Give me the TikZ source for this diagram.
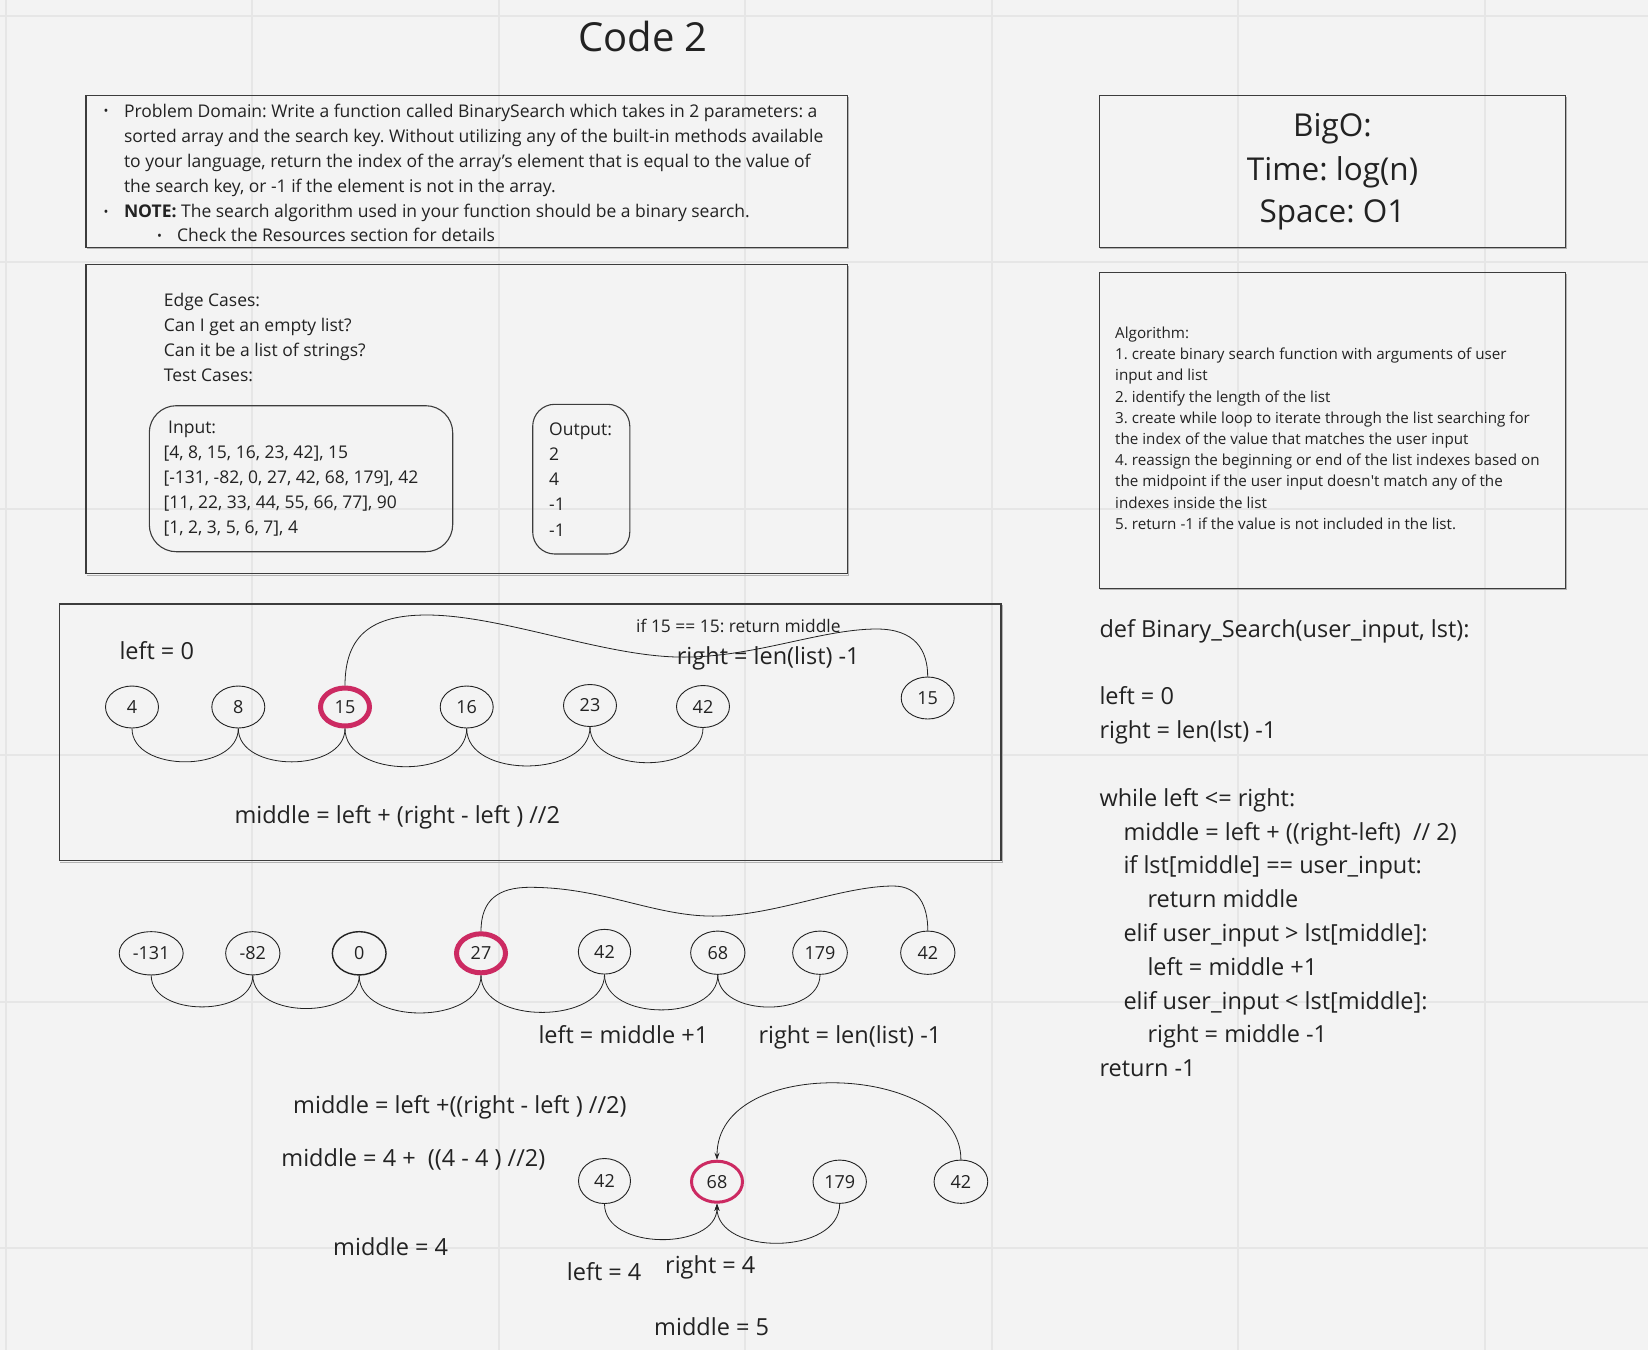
\documentclass[tikz,border=0pt]{standalone}
\usepackage{fontspec}
\setmainfont{Open Sans}
\usetikzlibrary{arrows.meta,shapes.geometric}
\definecolor{bgc}{HTML}{F3F3F3}
\definecolor{gridc}{HTML}{E6E6E6}
\definecolor{ink}{HTML}{222222}
\definecolor{boxc}{HTML}{3C3C3C}
\definecolor{hot}{HTML}{CC2A62}
\frenchspacing
\tikzset{
  panel/.style={draw=boxc,line width=1.3pt},
  roundbox/.style={draw=boxc,line width=1.1pt},
  tline/.style={anchor=base west,inner sep=0pt,text=ink,font=\fontsize{17.5}{21}\selectfont},
  aline/.style={anchor=base west,inner sep=0pt,text=ink,font=\fontsize{15.2}{18}\selectfont},
  cline/.style={anchor=base west,inner sep=0pt,text=ink,font=\fontsize{23.5}{28}\selectfont},
  bigline/.style={anchor=base,inner sep=0pt,text=ink,font=\fontsize{31.5}{36}\selectfont},
  ovalnode/.style={ellipse,draw=ink,line width=0.9pt,inner sep=0pt,minimum width=53pt,minimum height=42pt,text=ink,font=\fontsize{18}{20}\selectfont},
  hotoval/.style={ovalnode,draw=hot,line width=5pt,minimum width=49pt,minimum height=38pt},
  curve/.style={draw=ink,line width=0.8pt},
  arrowcurve/.style={curve,-{Stealth[length=7pt,width=5pt]}},
}
\begin{document}
\begin{tikzpicture}[x=1pt,y=-1pt]
\useasboundingbox (0,0) rectangle (1648,1350);
\fill[bgc] (0,0) rectangle (1648,1350);
\foreach \i in {0,...,6} \draw[gridc,line width=2pt] ({5.8+246.5*\i},0) -- ({5.8+246.5*\i},1350);
\foreach \j in {0,...,5} \draw[gridc,line width=2pt] (0,{15.8+246.5*\j}) -- (1648,{15.8+246.5*\j});

% title
\node[anchor=base,inner sep=0pt,text=ink,font=\fontsize{40}{44}\selectfont] (title) at (643,51) {Code 2};

% problem box
\draw[black!30,line width=1pt] (87,248.6) -- (848.6,248.6) -- (848.6,97);
\draw[panel] (86,95.7) rectangle (847.6,247.3);
\node[tline,font=\fontsize{13}{14}\selectfont] (pb1) at (103.5,115.8) {•};
\node[tline,font=\fontsize{13}{14}\selectfont] (pb2) at (103.5,216.2) {•};
\node[tline,font=\fontsize{13}{14}\selectfont] (pb3) at (157,240.2) {•};
\node[tline] (p1) at (123.8,117.3) {Problem Domain: Write a function called BinarySearch which takes in 2 parameters: a};
\node[tline] (p2) at (123.8,142.6) {sorted array and the search key. Without utilizing any of the built-in methods available};
\node[tline] (p3) at (123.8,167.8) {to your language, return the index of the array’s element that is equal to the value of};
\node[tline] (p4) at (123.8,192.9) {the search key, or -1 if the element is not in the array.};
\node[tline] (p5) at (123.8,217.7) {\textbf{NOTE:} The search algorithm used in your function should be a binary search.};
\node[tline] (p6) at (177,241.7) {Check the Resources section for details};

% edge case box
\draw[black!30,line width=1pt] (87,575) -- (848.6,575) -- (848.6,266);
\draw[panel] (86,264.7) rectangle (847.6,573.5);
\node[tline] (e1) at (163.6,306) {Edge Cases:};
\node[tline] (e2) at (163.6,331.3) {Can I get an empty list?};
\node[tline] (e3) at (163.6,356.6) {Can it be a list of strings?};
\node[tline] (e4) at (163.6,381.9) {Test Cases:};
\draw[roundbox,rounded corners=27pt] (149.3,405.7) rectangle (452.7,551.7);
\node[tline] (in0) at (168,433.3) {Input:};
\node[tline] (in1) at (163.3,458.3) {[4, 8, 15, 16, 23, 42], 15};
\node[tline] (in2) at (163.3,483.3) {[-131, -82, 0, 27, 42, 68, 179], 42};
\node[tline] (in3) at (163.3,508.3) {[11, 22, 33, 44, 55, 66, 77], 90};
\node[tline] (in4) at (163.3,533.3) {[1, 2, 3, 5, 6, 7], 4};
\draw[roundbox,rounded corners=22pt] (532.7,404.3) rectangle (629.8,554);
\node[tline] (out0) at (549,435) {Output:};
\node[tline] (out1) at (549,460) {2};
\node[tline] (out2) at (549,485.3) {4};
\node[tline] (out3) at (549,510.7) {-1};
\node[tline] (out4) at (549,536) {-1};

% BigO box
\draw[black!30,line width=1pt] (1100.3,248.6) -- (1566.6,248.6) -- (1566.6,97);
\draw[panel] (1099.3,95.7) rectangle (1565.3,247.3);
\node[bigline] (big1) at (1332.5,136) {BigO:};
\node[bigline] (big2) at (1332.5,180) {Time: log(n)};
\node[bigline] (big3) at (1332.5,222.7) {Space: O1};

% algorithm box
\draw[black!30,line width=1pt] (1100.3,589.6) -- (1566.6,589.6) -- (1566.6,274);
\draw[panel] (1099.3,272.7) rectangle (1565.3,588.3);
\node[aline] (al0) at (1115,338.3) {Algorithm:};
\node[aline] (al1) at (1115,359.5) {1. create binary search function with arguments of user};
\node[aline] (al2) at (1115,380.7) {input and list};
\node[aline] (al3) at (1115,402.0) {2. identify the length of the list};
\node[aline] (al4) at (1115,423.2) {3. create while loop to iterate through the list searching for};
\node[aline] (al5) at (1115,444.4) {the index of the value that matches the user input};
\node[aline] (al6) at (1115,465.6) {4. reassign the beginning or end of the list indexes based on};
\node[aline] (al7) at (1115,486.8) {the midpoint if the user input doesn\textquotesingle{}t match any of the};
\node[aline] (al8) at (1115,508.1) {indexes inside the list};
\node[aline] (al9) at (1115,529.3) {5. return -1 if the value is not included in the list.};

% code
\node[cline] (k0) at (1099.3,637.3) {def Binary\_Search(user\_input, lst):};
\node[cline] (k2) at (1099.3,704.9) {left = 0};
\node[cline] (k3) at (1099.3,738.7) {right = len(lst) -1};
\node[cline] (k5) at (1099.3,806.3) {while left <= right:};
\node[cline] (k6) at (1123.3,840.1) {middle = left + ((right-left) \ // 2)};
\node[cline] (k7) at (1123.3,873.9) {if lst[middle] == user\_input:};
\node[cline] (k8) at (1147.3,907.7) {return middle};
\node[cline] (k9) at (1123.3,941.5) {elif user\_input > lst[middle]:};
\node[cline] (k10) at (1147.3,975.3) {left = middle +1};
\node[cline] (k11) at (1123.3,1009.1) {elif user\_input < lst[middle]:};
\node[cline] (k12) at (1147.3,1042.9) {right = middle -1};
\node[cline] (k13) at (1099.3,1076.7) {return -1};

% panel 1
\draw[black!30,line width=1pt] (60.3,862) -- (1002.3,862) -- (1002.3,605);
\draw[panel] (59.3,604) rectangle (1001,860.5);
\node[cline] (l1) at (119.3,659.3) {left = 0};
\node[cline] (m1) at (234.3,823.3) {middle = left + (right - left ) //2};

\node[ovalnode] (a1) at (132,707) {4};
\node[ovalnode] (a2) at (238.3,707) {8};
\node[hotoval] (a3) at (345,707) {15};
\node[ovalnode] (a4) at (466.7,707) {16};
\node[ovalnode] (a5) at (590,705.5) {23};
\node[ovalnode] (a6) at (703,706.5) {42};
\node[ovalnode] (a7) at (927.7,698) {15};

\draw[curve] (a1.south) .. controls +(0,44.5) and +(0,44.5) .. (a2.south);
\draw[curve] (a2.south) .. controls +(0,44.5) and +(0,44.5) .. (a3.south);
\draw[curve] (a3.south) .. controls +(0,51) and +(0,51) .. (a4.south);
\draw[curve] (a4.south) .. controls +(0,51) and +(0,51) .. (a5.south);
\draw[curve] (a5.south) .. controls +(0,47) and +(0,47) .. (a6.south);
\draw[curve] (a3.north) .. controls (345,635) and (372,615) .. (426.7,615)
  .. controls (500,615) and (600,655) .. (676.7,657)
  .. controls (750,659) and (820,629) .. (876.7,629)
  .. controls (915,629) and (927.7,650) .. (a7.north);
\node[tline,font=\fontsize{17.4}{20}\selectfont] (r1a) at (636,632.7) {if 15 == 15: return middle};
\node[cline] (r1b) at (676.7,664) {right = len(list) -1};

% row 2
\node[ovalnode,minimum width=64pt,minimum height=43.3pt] (b1) at (151.2,953.3) {-131};
\node[ovalnode,minimum width=54.3pt,minimum height=43.3pt] (b2) at (252.8,953.3) {-82};
\node[ovalnode,minimum width=53.7pt,minimum height=43.3pt,line width=1.4pt] (b3) at (359.2,953.3) {0};
\node[hotoval,minimum height=39pt] (b4) at (481,953.3) {27};
\node[ovalnode,minimum width=52.3pt,minimum height=44.7pt] (b5) at (604.5,951.7) {42};
\node[ovalnode,minimum width=54.3pt,minimum height=43.3pt] (b6) at (717.8,952.7) {68};
\node[ovalnode,minimum width=54.7pt,minimum height=43.3pt] (b7) at (820,952.7) {179};
\node[ovalnode,minimum width=54.3pt,minimum height=43.3pt] (b8) at (927.8,952.7) {42};

\draw[curve] (b1.south) .. controls +(0,42) and +(0,42) .. (b2.south);
\draw[curve] (b2.south) .. controls +(0,44) and +(0,44) .. (b3.south);
\draw[curve] (b3.south) .. controls +(0,50) and +(0,50) .. (b4.south);
\draw[curve] (b4.south) .. controls +(0,50) and +(0,50) .. (b5.south);
\draw[curve] (b5.south) .. controls +(0,47) and +(0,47) .. (b6.south);
\draw[curve] (b6.south) .. controls +(0,43) and +(0,43) .. (b7.south);
\draw[curve] (b4.north) .. controls (481,900) and (498,887.3) .. (530,887.3)
  .. controls (600,887.3) and (650,914) .. (706.7,916)
  .. controls (770,918) and (840,886) .. (893.3,886)
  .. controls (918,886) and (927.8,905) .. (b8.north);
\node[cline] (r2a) at (538.3,1043.3) {left = middle +1};
\node[cline] (r2b) at (758.3,1043.3) {right = len(list) -1};

% row 3
\node[cline] (t1) at (293,1113.3) {middle = left +((right - left ) //2)};
\node[cline] (t2) at (281.2,1166) {middle = 4 + \ ((4 - 4 ) //2)};
\node[cline] (t3) at (333,1255) {middle = 4};
\node[cline] (t4) at (566.7,1280) {left = 4};
\node[cline] (t5) at (665,1273.3) {right = 4};
\node[cline] (t6) at (654,1335) {middle = 5};

\node[ovalnode,minimum width=52pt,minimum height=45pt] (c1) at (604.5,1181) {42};
\node[hotoval,line width=3pt,minimum width=51pt,minimum height=41pt] (c2) at (717,1181.7) {68};
\node[ovalnode,minimum width=53.4pt,minimum height=43.3pt] (c3) at (839.7,1181.7) {179};
\node[ovalnode,minimum width=53.7pt,minimum height=43.3pt] (c4) at (960.9,1181.7) {42};

\draw[arrowcurve] (c4.north) .. controls (960.9,1063) and (716.8,1053) .. (c2.north);
\draw[arrowcurve] (c1.south) .. controls +(0,47) and +(0,47) .. (c2.south);
\draw[arrowcurve] (c3.south) .. controls +(0,52) and +(0,52) .. (c2.south);
\end{tikzpicture}
\end{document}
